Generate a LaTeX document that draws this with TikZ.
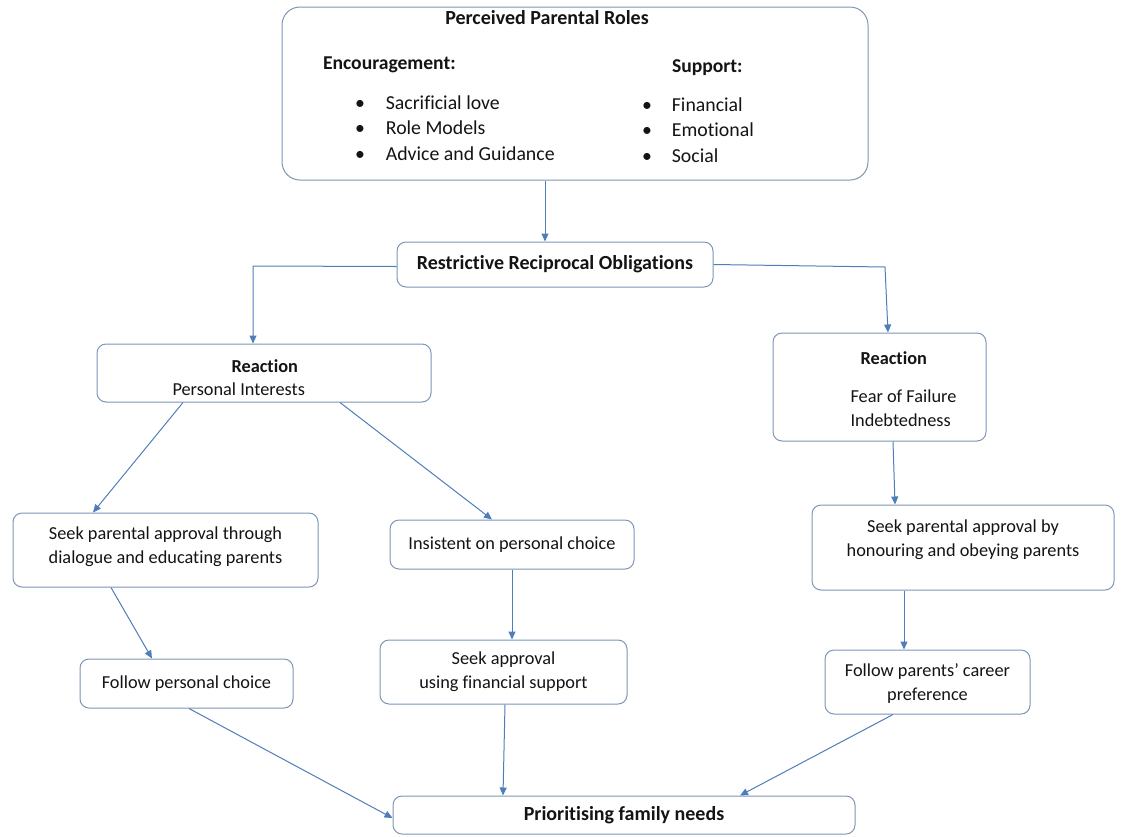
\documentclass[tikz,border=0pt]{standalone}
\usepackage{fontspec}
\setmainfont{Carlito}[Ligatures=NoCommon]
\usepackage{tikz}
\usetikzlibrary{arrows.meta, positioning}
\definecolor{FlowBlue}{RGB}{79, 125, 185}
\definecolor{FlowEdge}{RGB}{125, 150, 180}
\definecolor{FlowText}{RGB}{20, 20, 20}

\tikzset{
  flowbox/.style={draw=FlowEdge, line width=1pt, rounded corners=9pt, fill=white,
    align=center, inner sep=0pt, text=FlowText,
    font=\fontsize{18.3}{24}\selectfont},
  boxtext/.style={align=center, text=FlowText, font=\fontsize{18.3}{24}\selectfont},
  flowarrow/.style={draw=FlowBlue, line width=1pt, -{Triangle[length=8pt,width=7pt]}},
  listtext/.style={anchor=west, text=FlowText, font=\fontsize{19.8}{20}\selectfont},
  headtext/.style={anchor=west, text=FlowText, font=\fontsize{19.6}{20}\selectfont\bfseries},
}

\begin{document}
\begin{tikzpicture}[x=1pt,y=-1pt]
  \path[use as bounding box] (0,0) rectangle (1121,836);

  % Parental roles
  \node[flowbox, rounded corners=18pt, minimum width=586pt, minimum height=173pt] (roles) at (575,93.5) {};
  \node[text=FlowText, font=\fontsize{20}{22}\selectfont\bfseries] (rolestitle) at (547,18) {Perceived Parental Roles};
  \node[headtext] (enchead) at (319.5,65) {Encouragement:};
  \node[headtext] (suphead) at (668.5,68) {Support:};
  \node[listtext] (enca) at (351.5,103) {\textbullet\hspace{21pt}Sacrificial love};
  \node[listtext] (encb) at (351.5,128) {\textbullet\hspace{21pt}Role Models};
  \node[listtext] (encc) at (351.5,154) {\textbullet\hspace{21pt}Advice and Guidance};
  \node[listtext] (supa) at (638.5,105) {\textbullet\hspace{20pt}Financial};
  \node[listtext] (supb) at (638.5,130) {\textbullet\hspace{20pt}Emotional};
  \node[listtext] (supc) at (638.5,156) {\textbullet\hspace{20pt}Social};

  % Obligations
  \node[flowbox, minimum width=316pt, minimum height=45pt, font=\fontsize{20}{22}\selectfont\bfseries] (restr) at (555,264.5) {Restrictive Reciprocal Obligations};

  % Reactions
  \node[flowbox, minimum width=334pt, minimum height=58pt] (reacL) at (264,373) {};
  \node[anchor=north west, align=left, text=FlowText, font=\fontsize{18.3}{23}\selectfont] (reacLtxt) at (169,356) {\hspace*{59pt}\textbf{Reaction}\\Personal Interests};
  \node[flowbox, minimum width=213pt, minimum height=108pt] (reacR) at (879.5,387) {};
  \node[anchor=north west, align=left, text=FlowText, font=\fontsize{18.3}{24}\selectfont] (reacRtxt) at (847,348) {\hspace*{10pt}\textbf{Reaction}\\[14pt]Fear of Failure\\Indebtedness};

  % Responses
  \node[flowbox, minimum width=305pt, minimum height=74pt] (seekL) at (165.5,550) {};
  \node[boxtext] (seekLtxt) at (165.5,547) {Seek parental approval through\\dialogue and educating parents};
  \node[flowbox, minimum width=244pt, minimum height=49pt] (insist) at (512,544.5) {Insistent on personal choice};
  \node[flowbox, minimum width=302pt, minimum height=85pt] (seekR) at (963,547.5) {};
  \node[boxtext] (seekRtxt) at (963,540) {Seek parental approval by\\honouring and obeying parents};
  \node[flowbox, minimum width=213pt, minimum height=49pt] (followL) at (186.5,683.5) {Follow personal choice};
  \node[flowbox, minimum width=247pt, minimum height=64pt] (seekM) at (503.5,672) {Seek approval\\using financial support};
  \node[flowbox, minimum width=205pt, minimum height=64pt] (followR) at (927.5,682) {};
  \node[boxtext] (followRtxt) at (927.5,684) {Follow parents’ career\\preference};

  % Outcome
  \node[flowbox, minimum width=462pt, minimum height=38pt, font=\fontsize{20}{22}\selectfont\bfseries] (prior) at (624,815) {Prioritising family needs};

  % Connectors
  \coordinate (kneeL) at (253,266);
  \coordinate (kneeR) at (885,267);
  \draw[flowarrow] ([xshift=-30pt]roles.south) -- ([xshift=-10pt]restr.north);
  \draw[flowarrow] ([yshift=-2pt]restr.west) -- (kneeL) -- ([xshift=-11pt]reacL.north);
  \draw[flowarrow] (restr.east) -- (kneeR) -- ([xshift=8.5pt]reacR.north);
  \draw[flowarrow] ([xshift=-81pt]reacL.south) -- ([xshift=-72.5pt]seekL.north);
  \draw[flowarrow] ([xshift=76pt]reacL.south) -- ([xshift=-20pt]insist.north);
  \draw[flowarrow] ([xshift=-54.5pt]seekL.south) -- ([xshift=-34.5pt]followL.north);
  \draw[flowarrow] (insist.south) -- ([xshift=8.5pt]seekM.north);
  \draw[flowarrow] ([xshift=13.5pt]reacR.south) -- ([xshift=-68pt]seekR.north);
  \draw[flowarrow] ([xshift=-59pt]seekR.south) -- ([xshift=-23.5pt]followR.north);
  \draw[flowarrow] ([xshift=2.5pt]followL.south) -- ([yshift=-3pt]prior.west);
  \draw[flowarrow] ([xshift=1.5pt]seekM.south) -- ([xshift=-121pt]prior.north);
  \draw[flowarrow] ([xshift=-34.5pt]followR.south) -- ([xshift=116pt]prior.north);
\end{tikzpicture}
\end{document}
